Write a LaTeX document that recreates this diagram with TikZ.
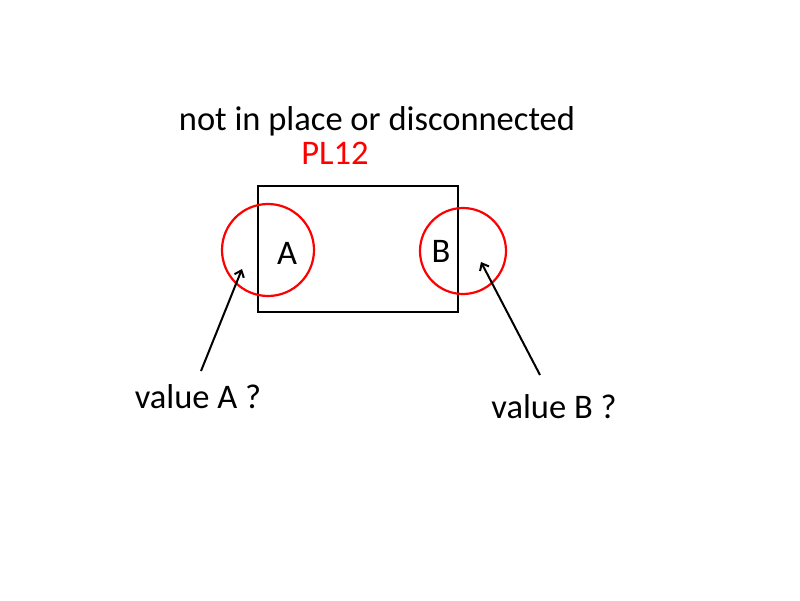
\documentclass[tikz,border=0pt]{standalone}
\usepackage{fontspec}
\setmainfont{Carlito}
\usetikzlibrary{arrows.meta}
\begin{document}
\begin{tikzpicture}[x=1pt,y=-1pt,
  lbl/.style={font=\fontsize{34.5}{40}\selectfont, inner sep=0pt},
  ring/.style={draw=red, line width=2.2pt, circle, inner sep=0pt},
  conn/.style={draw=black, line width=2pt, -{Straight Barb[length=6pt,width=10pt]}}]
\useasboundingbox (0,0) rectangle (800,600);
\node[draw=black, line width=2pt, minimum width=200pt, minimum height=126pt, inner sep=0pt] (box) at (358,249) {};
\node[ring, minimum size=92pt] (ca) at (268,250) {};
\node[ring, minimum size=86pt] (cb) at (463,251) {};
\node[lbl] (la) at (287,253) {A};
\node[lbl] (lb) at (441,251) {B};
\node[lbl] (title) at (377,121) {not in place or disconnected};
\node[lbl, text=red] (pl) at (335,153) {PL12};
\node[lbl] (va) at (198,397) {value A ?};
\node[lbl] (vb) at (554,407) {value B ?};
\coordinate (sa) at (201,371);
\coordinate (ea) at (242,269);
\coordinate (sb) at (540,375);
\coordinate (eb) at (481,262);
\draw[conn] (sa) -- (ea);
\draw[conn] (sb) -- (eb);
\end{tikzpicture}
\end{document}
